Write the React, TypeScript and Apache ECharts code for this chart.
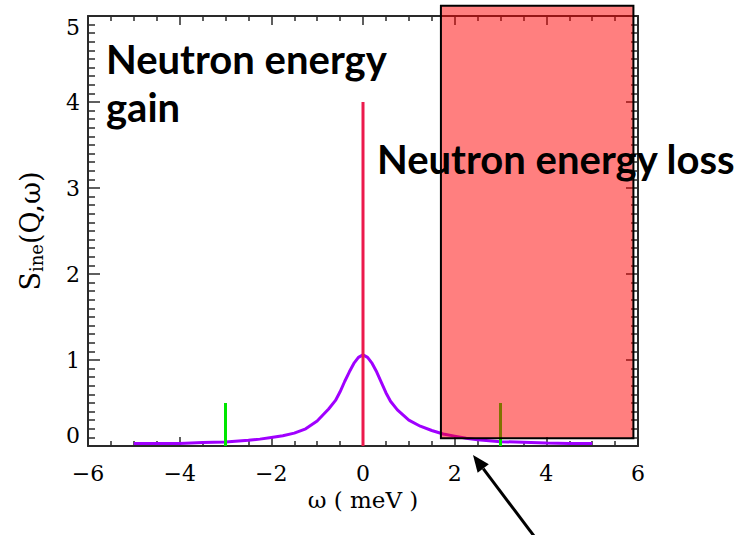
import React, { useEffect, useRef } from "react";
import * as echarts from "echarts";

// Inelastic scattering function S_ine(Q, ω) sampled in energy transfer ω (meV)
const omega = [
  -5, -4.5, -4, -3.5, -3, -2.5, -2.25, -2, -1.75, -1.5, -1.25, -1, -0.75, -0.6,
  -0.5, -0.4, -0.3, -0.2, -0.1, 0, 0.1, 0.2, 0.3, 0.4, 0.5, 0.6, 0.75, 1, 1.25,
  1.5, 1.75, 2, 2.25, 2.5, 3, 3.5, 4, 4.5, 5,
];
const sIne = [
  0.028, 0.028, 0.03, 0.04, 0.046, 0.066, 0.08, 0.1, 0.12, 0.15, 0.2, 0.29,
  0.43, 0.53, 0.63, 0.75, 0.86, 0.96, 1.03, 1.06, 1.03, 0.96, 0.86, 0.74,
  0.62, 0.52, 0.42, 0.3, 0.23, 0.18, 0.14, 0.115, 0.09, 0.072, 0.05, 0.044,
  0.034, 0.03, 0.028,
];

// Elastic line and the two sidebands
const elasticOmega = 0;
const elasticHeight = 4;
const sidebandOmega = [-3, 3];
const sidebandHeight = 0.5;

// Axis ranges
const xMin = -6;
const xMax = 6;
const xStep = 2;
const yMin = 0;
const yMax = 5;
const yStep = 1;

// Shaded energy-loss window, in data units
const lossFrom = 1.7;
const lossTo = 5.9;
const lossBottom = 0.09;
const lossTop = 5.12;

const AXIS_COLOR = "#2a2a2a";
const SERIF = "DejaVu Serif";
const LABEL_FONT = "Lato";

const minus = (v: number) => (v < 0 ? "\u2212" + Math.abs(v) : String(v));

export default function App() {
  const ref = useRef<HTMLDivElement>(null);

  useEffect(() => {
    if (!ref.current) return;
    document.body.style.margin = "0";
    const chart = echarts.init(ref.current, undefined, { renderer: "svg" });

    const baseX = {
      type: "value" as const,
      min: xMin,
      max: xMax,
      interval: xStep,
      axisLine: { show: true, onZero: false, lineStyle: { color: AXIS_COLOR, width: 2 } },
      axisTick: { show: true, inside: true, length: 9, lineStyle: { color: AXIS_COLOR, width: 1.5 } },
      minorTick: { show: true, splitNumber: 4, length: 5, lineStyle: { color: AXIS_COLOR, width: 1.5 } },
      splitLine: { show: false },
    };
    const baseY = {
      type: "value" as const,
      min: yMin,
      max: yMax,
      interval: yStep,
      axisLine: { show: true, onZero: false, lineStyle: { color: AXIS_COLOR, width: 2 } },
      axisTick: { show: true, inside: true, length: 12, lineStyle: { color: AXIS_COLOR, width: 1.5 } },
      minorTick: { show: true, splitNumber: 10, length: 7, lineStyle: { color: AXIS_COLOR, width: 1.5 } },
      splitLine: { show: false },
    };

    chart.setOption({
      animation: false,
      backgroundColor: "#ffffff",
      grid: { left: 88, right: 112, top: 16, bottom: 89 },
      xAxis: [
        {
          ...baseX,
          position: "bottom",
          name: "ω ( meV )",
          nameLocation: "middle",
          nameGap: 42,
          nameTextStyle: { fontFamily: SERIF, fontSize: 23, color: "#000" },
          axisLabel: {
            margin: 16,
            fontFamily: SERIF,
            fontSize: 22,
            color: "#000",
            formatter: (v: number) => minus(v),
          },
        },
        { ...baseX, position: "top", axisLabel: { show: false } },
      ],
      yAxis: [
        {
          ...baseY,
          position: "left",
          name: "{s|S}{sub|ine}{s|(Q,ω)}",
          nameLocation: "middle",
          nameGap: 43,
          nameTextStyle: {
            color: "#000",
            rich: {
              s: { fontFamily: SERIF, fontSize: 27, color: "#000" },
              sub: { fontFamily: SERIF, fontSize: 18, color: "#000", padding: [12, 0, 0, 0] },
            },
          },
          axisLabel: {
            margin: 8,
            fontFamily: SERIF,
            fontSize: 22,
            color: "#000",
            verticalAlignMinLabel: "bottom",
            verticalAlignMaxLabel: "top",
          },
        },
        { ...baseY, position: "right", axisLabel: { show: false } },
      ],
      series: [
        {
          type: "line",
          data: omega.map((w, i) => [w, sIne[i]]),
          showSymbol: false,
          smooth: false,
          lineStyle: { color: "#a000ff", width: 3 },
          z: 3,
        },
        {
          type: "line",
          data: [
            [elasticOmega, 0],
            [elasticOmega, elasticHeight],
          ],
          showSymbol: false,
          lineStyle: { color: "#ec1a4c", width: 3 },
          z: 4,
        },
        ...sidebandOmega.map((w) => ({
          type: "line" as const,
          data: [
            [w, 0],
            [w, sidebandHeight],
          ],
          showSymbol: false,
          lineStyle: { color: "#00e600", width: 3 },
          z: 4,
        })),
      ],
    });

    const p1 = chart.convertToPixel({ xAxisIndex: 0, yAxisIndex: 0 }, [lossFrom, lossTop]) as number[];
    const p2 = chart.convertToPixel({ xAxisIndex: 0, yAxisIndex: 0 }, [lossTo, lossBottom]) as number[];

    // Arrow pointing at the start of the energy-loss side
    const tail = [537, 540];
    const tip = [473, 455];
    const dx = tip[0] - tail[0];
    const dy = tip[1] - tail[1];
    const len = Math.hypot(dx, dy);
    const ux = dx / len;
    const uy = dy / len;
    const headLen = 17;
    const headHalf = 7;
    const base = [tip[0] - ux * headLen, tip[1] - uy * headLen];
    const px = -uy * headHalf;
    const py = ux * headHalf;

    const bigText = {
      fontFamily: LABEL_FONT,
      fontWeight: "bold",
      fontSize: 40,
      fill: "#000",
      verticalAlign: "middle",
    };

    chart.setOption({
      graphic: [
        {
          type: "rect",
          z: 100,
          shape: { x: p1[0], y: p1[1], width: p2[0] - p1[0], height: p2[1] - p1[1] },
          style: { fill: "rgba(255,0,0,0.5)", stroke: "#000", lineWidth: 2 },
        },
        { type: "text", z: 101, x: 106, y: 59, style: { ...bigText, text: "Neutron energy" } },
        { type: "text", z: 101, x: 106, y: 107, style: { ...bigText, text: "gain" } },
        { type: "text", z: 101, x: 377, y: 159, style: { ...bigText, text: "Neutron energy loss" } },
        {
          type: "polyline",
          z: 101,
          shape: { points: [tail, base] },
          style: { stroke: "#000", lineWidth: 3 },
        },
        {
          type: "polygon",
          z: 101,
          shape: {
            points: [
              tip,
              [base[0] + px, base[1] + py],
              [base[0] - px, base[1] - py],
            ],
          },
          style: { fill: "#000" },
        },
      ],
    });

    return () => chart.dispose();
  }, []);

  return <div ref={ref} style={{ width: 750, height: 535 }} />;
}
